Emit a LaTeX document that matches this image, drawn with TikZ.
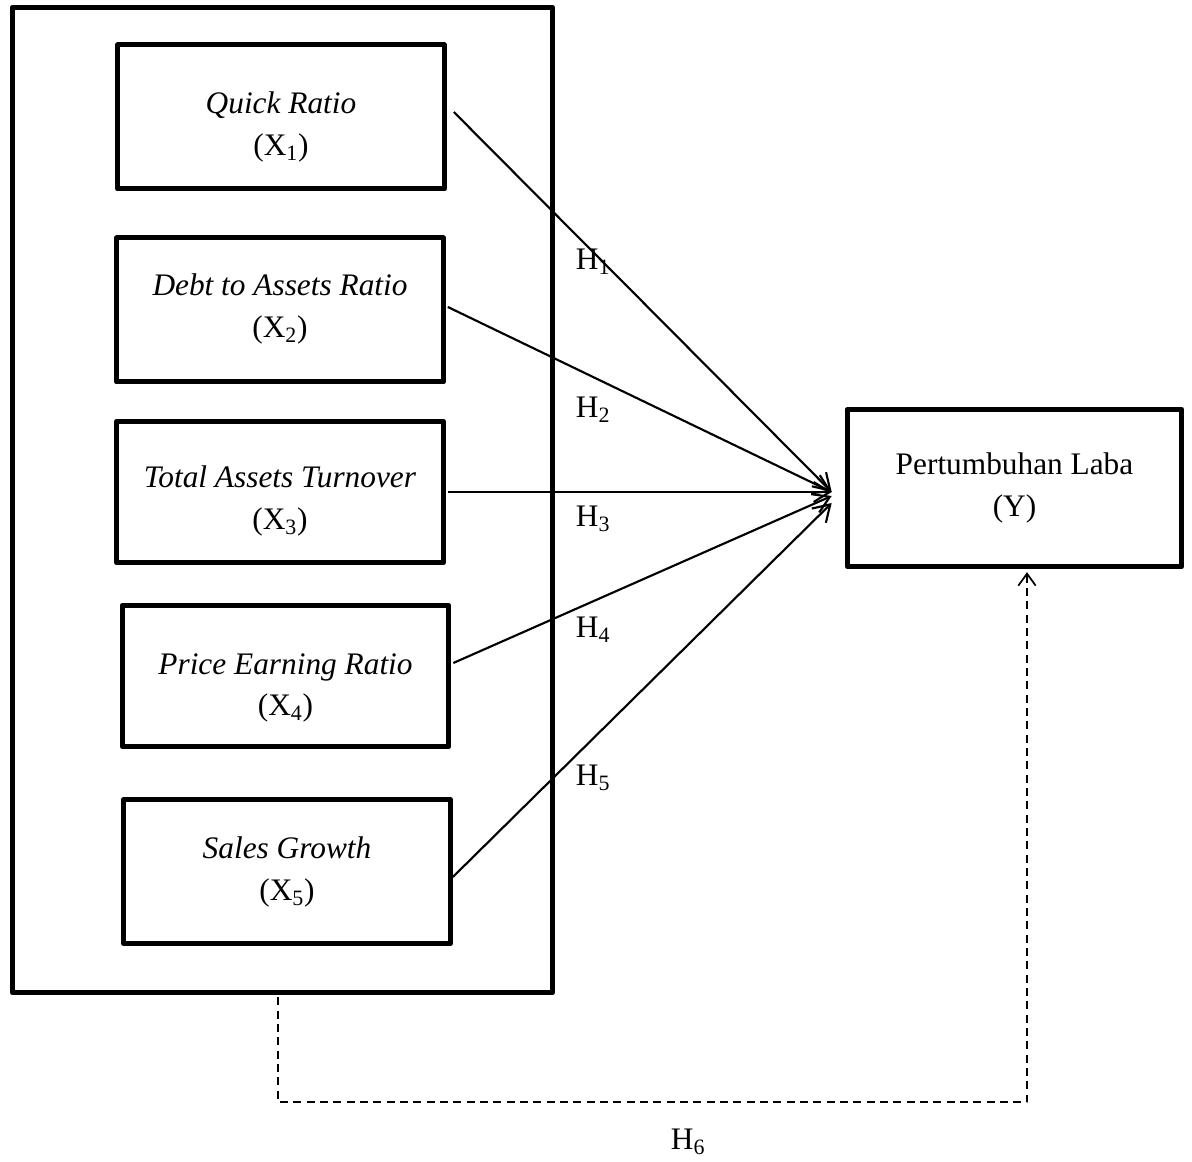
\documentclass[tikz,border=0pt]{standalone}
\usepackage{fontspec}
\setmainfont{Liberation Serif}
\usetikzlibrary{arrows.meta}
\begin{document}
\begin{tikzpicture}[x=0.75pt, y=-0.75pt, font=\fontsize{23.5}{31}\selectfont, line join=round,
	varbox/.style={draw, line width=3.75pt, minimum width=245pt, minimum height=108pt},
	vartext/.style={align=center, inner sep=0pt},
	link/.style={line width=1.6pt, -{Straight Barb[length=12pt, width=15pt, line width=1.6pt]}},
	dashlink/.style={line width=1.3pt, dash pattern=on 6pt off 4pt, -{Straight Barb[length=9pt, width=13pt, line width=1.3pt]}},
	hyp/.style={inner sep=0pt}]
	\useasboundingbox (0,0) rectangle (1192,1162);
	
	\node[draw, line width=3.75pt, minimum width=405pt, minimum height=739pt] (frame) at (282.5,500) {};
	
	\node[varbox] (x1) at (281,117) {};
	\node[varbox] (x2) at (280,310) {};
	\node[varbox, minimum height=106pt] (x3) at (280,492) {};
	\node[varbox, minimum height=106pt] (x4) at (285.5,676) {};
	\node[varbox] (x5) at (287,871.5) {};
	\node[varbox, minimum width=251pt, minimum height=118pt] (y) at (1014.5,488) {};
	
	\node[vartext] (t1) at (281,127) {\textit{Quick Ratio}\\(X\textsubscript{1})};
	\node[vartext] (t2) at (280,309) {\textit{Debt to Assets Ratio}\\(X\textsubscript{2})};
	\node[vartext] (t3) at (280,501) {\textit{Total Assets Turnover}\\(X\textsubscript{3})};
	\node[vartext] (t4) at (285.5,688) {\textit{Price Earning Ratio}\\(X\textsubscript{4})};
	\node[vartext] (t5) at (287,872) {\textit{Sales Growth}\\(X\textsubscript{5})};
	\node[vartext] (ty) at (1014.5,488) {Pertumbuhan Laba\\(Y)};
	
	\coordinate (in1) at ([shift={(-13,4)}]y.west);
	\coordinate (in4) at ([shift={(-13,8)}]y.west);
	\coordinate (in5) at ([shift={(-13,15)}]y.west);
	\coordinate (bend) at (1027,1102);
	
	\draw[link] ([shift={(7,-5)}]x1.east) -- (in1);
	\draw[link] ([shift={(2,-3)}]x2.east) -- (in1);
	\draw[link] ([shift={(2,0)}]x3.east) -- (in1);
	\draw[link] ([shift={(2,-13)}]x4.east) -- (in4);
	\draw[link] ([shift={(0,5.5)}]x5.east) -- (in5);
	\draw[dashlink] ([shift={(-4.5,2)}]frame.south) |- (bend) -- ([shift={(12.5,3)}]y.south);
	
	\node[hyp] (h1) at (593,262) {H\textsubscript{1}};
	\node[hyp] (h2) at (593,410) {H\textsubscript{2}};
	\node[hyp] (h3) at (593,519) {H\textsubscript{3}};
	\node[hyp] (h4) at (593,630) {H\textsubscript{4}};
	\node[hyp] (h5) at (593,778) {H\textsubscript{5}};
	\node[hyp] (h6) at (688,1142) {H\textsubscript{6}};
\end{tikzpicture}
\end{document}
